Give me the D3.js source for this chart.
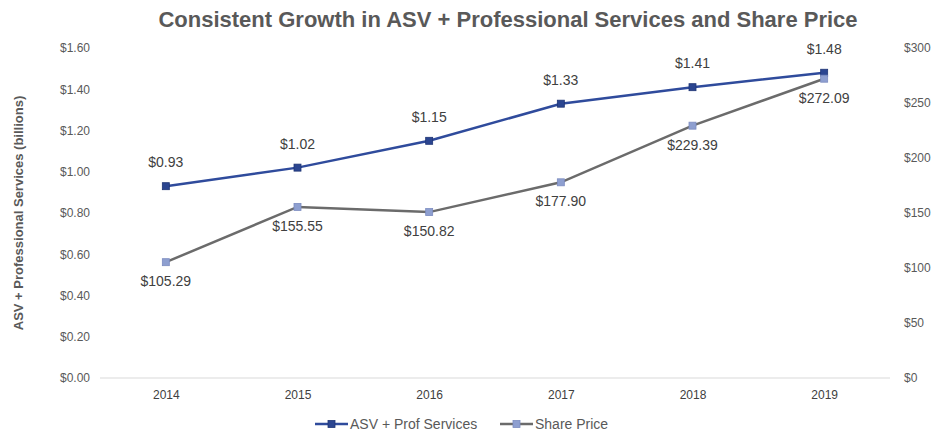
<!DOCTYPE html>
<html>
<head>
<meta charset="utf-8">
<script src="https://cdn.jsdelivr.net/npm/d3@7"></script>
<style>
  body { margin: 0; background: #fff; }
  text { font-family: "Liberation Sans", Arial, sans-serif; }
</style>
</head>
<body>
<div class="canvas"></div>
<script>
const years = ["2014", "2015", "2016", "2017", "2018", "2019"];
const asv = [0.93, 1.02, 1.15, 1.33, 1.41, 1.48];
const sharePrice = [105.29, 155.55, 150.82, 177.9, 229.39, 272.09];
const leftTicks = [0, 0.2, 0.4, 0.6, 0.8, 1.0, 1.2, 1.4, 1.6];
const rightTicks = [0, 50, 100, 150, 200, 250, 300];

const svgWidth = 936;
const svgHeight = 434;
const margin = { t: 48, r: 46, b: 56, l: 100 };
const gWidth = svgWidth - margin.l - margin.r;
const gHeight = svgHeight - margin.t - margin.b;

const svg = d3
  .select(".canvas")
  .append("svg")
  .attr("width", svgWidth)
  .attr("height", svgHeight);

const g = svg
  .append("g")
  .attr("transform", `translate(${margin.l}, ${margin.t})`);

const x = d3.scalePoint().domain(years).range([0, gWidth]).padding(0.5);
const yL = d3.scaleLinear().domain([0, 1.6]).range([gHeight, 0]);
const yR = d3.scaleLinear().domain([0, 300]).range([gHeight, 0]);

const labelColor = "#595959";

// title
svg
  .append("text")
  .attr("x", 508)
  .attr("y", 27)
  .attr("text-anchor", "middle")
  .attr("font-size", 22)
  .attr("font-weight", "bold")
  .attr("fill", labelColor)
  .text("Consistent Growth in ASV + Professional Services and Share Price");

// left axis title
svg
  .append("text")
  .attr("transform", `translate(23, ${margin.t + gHeight / 2}) rotate(-90)`)
  .attr("text-anchor", "middle")
  .attr("font-size", 13)
  .attr("font-weight", "bold")
  .attr("fill", labelColor)
  .text("ASV + Professional Services (billions)");

// axes
const xAxis = d3.axisBottom(x).tickSize(0).tickPadding(12);
const yAxisL = d3
  .axisLeft(yL)
  .tickValues(leftTicks)
  .tickSize(0)
  .tickPadding(10)
  .tickFormat(d => "$" + d.toFixed(2));
const yAxisR = d3
  .axisRight(yR)
  .tickValues(rightTicks)
  .tickSize(0)
  .tickPadding(14)
  .tickFormat(d => "$" + d);

const xAxisGroup = g
  .append("g")
  .attr("transform", `translate(0, ${gHeight})`)
  .call(xAxis);
const yAxisGroupL = g.append("g").call(yAxisL);
const yAxisGroupR = g
  .append("g")
  .attr("transform", `translate(${gWidth}, 0)`)
  .call(yAxisR);

[xAxisGroup, yAxisGroupL, yAxisGroupR].forEach(ax => {
  ax.selectAll("text")
    .attr("font-size", 12)
    .attr("fill", labelColor)
    .style("font-family", "Liberation Sans, Arial, sans-serif");
  ax.select(".domain").remove();
});
xAxisGroup.selectAll("text").attr("fill", "#404040");

g.append("line")
  .attr("x1", 0)
  .attr("x2", gWidth)
  .attr("y1", gHeight)
  .attr("y2", gHeight)
  .attr("stroke", "#d9d9d9")
  .attr("stroke-width", 1);

const series = [
  { name: "ASV + Prof Services", values: asv, y: yL, line: "#2f4b9c", marker: "#2b4590", markerStroke: "#1f3575", fmt: d => "$" + d.toFixed(2), dy: -19 },
  { name: "Share Price", values: sharePrice, y: yR, line: "#6b6b6b", marker: "#8e9fd0", markerStroke: "#7c8cc0", fmt: d => "$" + d.toFixed(2), dy: 24 }
];

series.forEach(s => {
  const line = d3
    .line()
    .x((d, i) => x(years[i]))
    .y(d => s.y(d));

  g.append("path")
    .datum(s.values)
    .attr("fill", "none")
    .attr("stroke", s.line)
    .attr("stroke-width", 2.5)
    .attr("d", line);

  g.selectAll(null)
    .data(s.values)
    .enter()
    .append("rect")
    .attr("x", (d, i) => x(years[i]) - 3.5)
    .attr("y", d => s.y(d) - 3.5)
    .attr("width", 7)
    .attr("height", 7)
    .attr("fill", s.marker)
    .attr("stroke", s.markerStroke)
    .attr("stroke-width", 0.8);

  g.selectAll(null)
    .data(s.values)
    .enter()
    .append("text")
    .attr("x", (d, i) => x(years[i]))
    .attr("y", d => s.y(d) + s.dy)
    .attr("text-anchor", "middle")
    .attr("font-size", 14)
    .attr("fill", "#404040")
    .text(s.fmt);
});

// legend
const legend = svg.append("g").attr("transform", "translate(315, 424)");
const legendItems = [
  { s: series[0], x: 0 },
  { s: series[1], x: 185 }
];
legendItems.forEach(item => {
  const lg = legend.append("g").attr("transform", `translate(${item.x}, 0)`);
  lg.append("line")
    .attr("x1", 0)
    .attr("x2", 33)
    .attr("y1", 0)
    .attr("y2", 0)
    .attr("stroke", item.s.line)
    .attr("stroke-width", 2.5);
  lg.append("rect")
    .attr("x", 13)
    .attr("y", -3.5)
    .attr("width", 7)
    .attr("height", 7)
    .attr("fill", item.s.marker)
    .attr("stroke", item.s.markerStroke)
    .attr("stroke-width", 0.8);
  lg.append("text")
    .attr("x", 35)
    .attr("y", 5)
    .attr("font-size", 14)
    .attr("fill", labelColor)
    .text(item.s.name);
});
</script>
</body>
</html>
